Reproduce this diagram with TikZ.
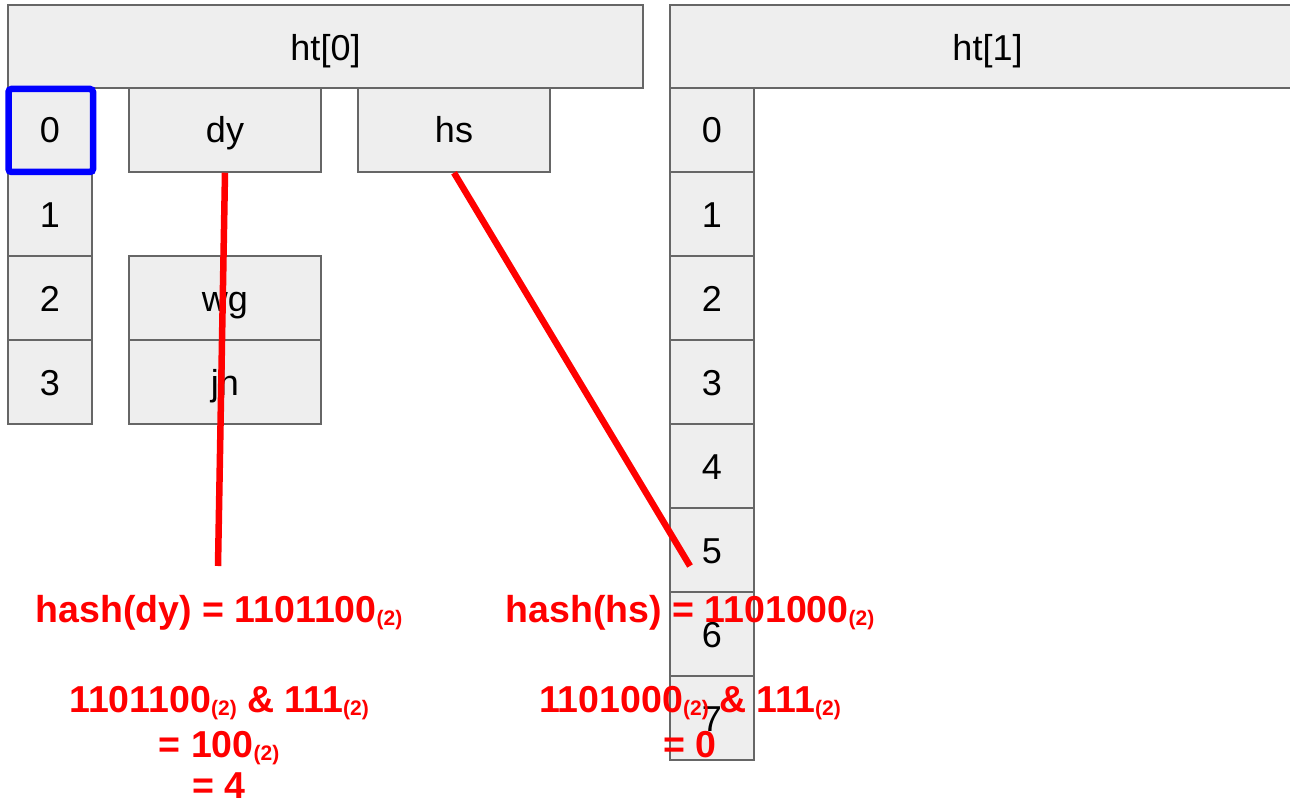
\documentclass[tikz,border=0pt]{standalone}
\usepackage{fontspec}
\setmainfont{Liberation Sans}
\usepackage{tikz}
\definecolor{cellgray}{HTML}{EEEEEE}
\definecolor{edgegray}{HTML}{666666}
\definecolor{hashred}{HTML}{FF0000}
\definecolor{slotblue}{HTML}{0000FF}
\newcommand{\bintwo}{\raisebox{-3pt}{\fontsize{21pt}{21pt}\selectfont(2)}}

\begin{document}
\begin{tikzpicture}[x=1pt,y=-1pt,
	cell/.style={draw=edgegray,fill=cellgray,line width=1.5pt,inner sep=0pt,
		text height=26pt,text depth=0pt,font=\fontsize{36pt}{36pt}\selectfont},
	header/.style={cell,minimum width=635pt,minimum height=83pt,text height=29pt},
	slot/.style={cell,minimum width=84pt,minimum height=84pt},
	entry/.style={cell,minimum width=192pt,minimum height=84pt},
	hashline/.style={hashred,line width=6.5pt},
	hashtext/.style={hashred,anchor=base,inner sep=0pt,
		font=\fontsize{37.5pt}{37.5pt}\selectfont\bfseries}]
	\clip (0,0) rectangle (1290,805);
	% the two tables
	\node[header] (ht0) at (325.5,46.5) {ht[0]};
	\node[header] (ht1) at (987.5,46.5) {ht[1]};
	\foreach \i in {0,...,3}
		\node[slot] (a\i) at (50,130+84*\i) {\i};
	\foreach \i in {0,...,7}
		\node[slot] (b\i) at (712,130+84*\i) {\i};
	\node[entry] (dy) at (225,130) {dy};
	\node[entry] (hs) at (454,130) {hs};
	\node[entry] (wg) at (225,298) {wg};
	\node[entry] (jh) at (225,382) {jh};
	\node[draw=slotblue,line width=6.5pt,rounded corners=3pt,
		minimum width=84.5pt,minimum height=83pt] (pick) at (50.75,130.5) {};
	% where the keys go
	\coordinate (dyend) at (218,566);
	\coordinate (hsend) at (690,566);
	\draw[hashline] (dy.south) -- (dyend);
	\draw[hashline] (hs.south) -- (hsend);
	\node[hashtext] (hashdy) at (219,622) {hash(dy) = 1101100\bintwo};
	\node[hashtext] (anddy) at (219,712) {1101100\bintwo{} \& 111\bintwo};
	\node[hashtext] (resdy) at (219,757) {= 100\bintwo};
	\node[hashtext] (idxdy) at (219,798) {= 4};
	\node[hashtext] (hashhs) at (690,622) {hash(hs) = 1101000\bintwo};
	\node[hashtext] (andhs) at (690,712) {1101000\bintwo{} \& 111\bintwo};
	\node[hashtext] (idxhs) at (690,757) {= 0};
\end{tikzpicture}
\end{document}
